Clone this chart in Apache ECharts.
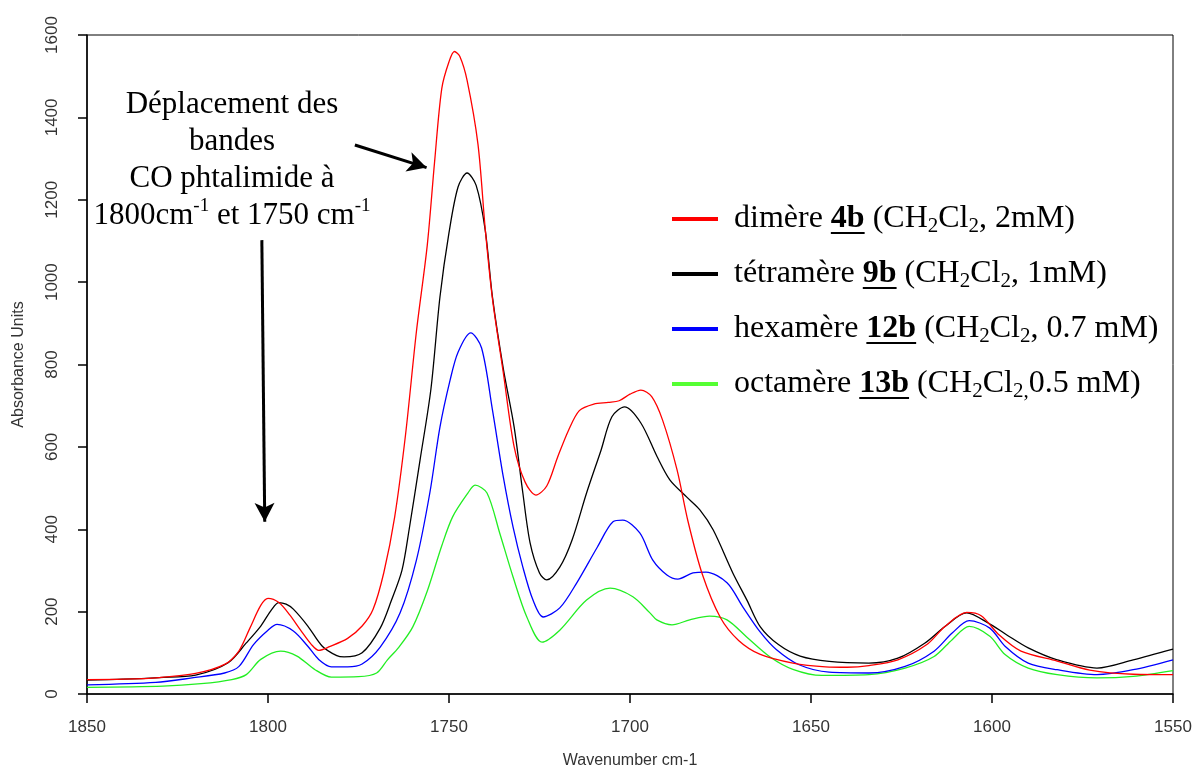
<!DOCTYPE html>
<html><head><meta charset="utf-8">
<script src="https://cdn.jsdelivr.net/npm/echarts@6/dist/echarts.min.js"></script>
<style>html,body{margin:0;padding:0;background:#fff}#c{width:1197px;height:770px}</style>
</head><body><div id="c"></div>
<script>
// ---- data ----
const wnDimere = [1850,1840,1830,1820,1812,1808,1805,1802,1800,1797,1794,1791,1788,1786,1783,1778,1774,1771,1768,1765,1762,1759,1756,1754,1752,1750,1748.5,1747,1745,1742,1740,1738,1735,1732,1729,1726,1723,1720,1717,1714,1710,1706,1703,1700,1697,1694,1691,1687,1684,1680,1675,1670,1664,1655,1646,1640,1634,1626,1618,1613,1607,1603,1598,1592,1582,1573,1561,1550];
const absDimere = [35,36,40,50,72,105,160,215,232,222,192,155,120,106,115,135,165,205,295,430,630,880,1090,1290,1470,1535,1560,1548,1490,1335,1130,960,780,600,515,483,505,575,640,688,704,708,712,728,738,722,665,544,420,290,185,130,96,75,66,65,69,83,120,164,198,190,143,104,80,58,48,47];

const wnTetra = [1850,1840,1830,1820,1811,1806,1802,1799,1797,1795,1793,1789,1785,1781,1779,1774,1769,1766,1763,1761,1758,1755,1752.5,1750,1747.5,1745,1742.5,1740,1738,1735,1732,1729.6,1727.6,1725,1723,1719.4,1716,1712,1708,1705,1701.5,1697,1692.5,1689,1684.3,1680.7,1677,1671.6,1667.7,1664,1659,1653,1645,1634,1626,1618.5,1613,1607,1601,1596,1590,1582,1571,1561,1550];
const absTetra = [34,36,40,46,76,124,165,205,222,218,206,165,116,93,90,100,160,225,300,400,568,740,964,1120,1231,1265,1235,1127,964,790,648,488,367,294,277,308,374,488,592,673,697,658,576,520,478,447,398,294,228,163,120,92,79,75,87,124,164,197,172,144,112,83,63,83,109];

const wnHexa = [1850,1831,1821,1812,1808,1804,1800,1797.5,1793,1789,1786,1782.5,1778,1774,1769,1763.5,1759,1755.3,1752.5,1749.7,1747.5,1744,1741,1738,1735,1732.3,1729.6,1726.8,1724,1719.4,1714.7,1709,1704.7,1702,1697.3,1693.7,1689.8,1686.8,1682.6,1679,1673.2,1668.8,1664,1659.6,1653.3,1645,1634,1624,1616,1611,1606.3,1600.6,1596.4,1590,1582,1571,1561,1550];
const absHexa = [22,28,39,51,67,120,155,169,153,116,84,66,66,73,114,197,325,488,648,762,830,877,840,690,527,405,308,228,187,209,270,357,418,422,391,325,289,279,294,296,270,211,150,108,71,53,51,67,104,148,178,160,116,75,59,47,59,83];

const wnOcta = [1850,1829,1818.5,1810,1806,1802,1796.5,1792,1787,1782.5,1775,1770,1767,1764,1760,1756,1752,1749,1745,1742.8,1739.5,1736,1732.3,1728.5,1724.3,1719.4,1712,1705.5,1699.2,1694.5,1692.6,1688.4,1683.5,1678,1673.2,1667.7,1661.3,1655,1647,1634,1624,1616,1611,1606.3,1600.6,1596.4,1590,1582,1571,1561,1550];
const absOcta = [16,19,25,35,47,84,104,92,59,41,42,51,83,112,163,250,360,430,485,507,488,391,284,187,126,155,228,257,236,197,180,168,180,189,180,138,90,60,45,47,63,91,132,164,140,96,63,47,39,43,57];

const seriesNames = ['dimère','tétramère','hexamère','octamère'];
const seriesColors = ['#ff0000','#000000','#0000ff','#22ee22'];
const legendSwatch = ['#ff0000','#000000','#0000ff','#55ff33'];
const legendWord = ['dimère ','tétramère ','hexamère ','octamère '];
const legendBold = ['4b','9b','12b','13b'];
const legendSub2 = ['2','2','2','2,'];
const legendConc = [', 2mM)',', 1mM)',', 0.7 mM)','0.5 mM)'];
const xTicks = {min:1550, max:1850, interval:50};
const yTicks = {min:0, max:1600, interval:200};

const zip = (a,b) => a.map((x,i)=>[x,b[i]]);
const allData = [zip(wnDimere,absDimere), zip(wnTetra,absTetra), zip(wnHexa,absHexa), zip(wnOcta,absOcta)];

const chart = echarts.init(document.getElementById('c'), null, {renderer:'canvas'});

const cv = document.createElement('canvas').getContext('2d');
const FS = 32;
function mw(t, bold, size){ cv.font = (bold?'bold ':'') + (size||FS) + 'px "Liberation Serif"'; return cv.measureText(t).width; }

const serif = '"Liberation Serif", "Times New Roman", serif';
const sans = '"Liberation Sans", Arial, sans-serif';
const rich = {
  n:{fontFamily:serif,fontSize:FS,color:'#000',lineHeight:36},
  b:{fontFamily:serif,fontSize:FS,fontWeight:'bold',color:'#000',lineHeight:36},
  s:{fontFamily:serif,fontSize:21,color:'#000',lineHeight:20,verticalAlign:'bottom'}
};

const rowY = [219,274,329,384];
const graphics = [];
const legX0 = 672, legX1 = 718, textX = 734;
for (let i=0;i<4;i++){
  graphics.push({type:'line', shape:{x1:legX0,y1:rowY[i],x2:legX1,y2:rowY[i]}, style:{stroke:legendSwatch[i],lineWidth:4}, silent:true});
  const txt = '{n|'+legendWord[i]+'}{b|'+legendBold[i]+'}{n| (CH}{s|2}{n|Cl}{s|'+legendSub2[i]+'}{n|'+legendConc[i]+'}';
  graphics.push({type:'text', x:textX, y:rowY[i], silent:true,
    style:{text:txt, rich:rich, verticalAlign:'middle', align:'left', fontFamily:serif, fontSize:FS}});
  const ux = textX + mw(legendWord[i], false);
  const uw = mw(legendBold[i], true);
  graphics.push({type:'rect', shape:{x:ux,y:rowY[i]+13,width:uw,height:2}, style:{fill:'#000'}, silent:true});
}
graphics.push({type:'text', x:232, y:86, silent:true,
  style:{text:'{n|Déplacement des}\n{n|bandes}\n{n|CO phtalimide à}\n{n|1800cm}{sup|-1}{n| et 1750 cm}{sup|-1}',
    rich:{n:{fontFamily:serif,fontSize:31,color:'#000',lineHeight:37,align:'center'},
          sup:{fontFamily:serif,fontSize:19,color:'#000',lineHeight:37,verticalAlign:'top'}},
    align:'center', verticalAlign:'top'}});

const series = allData.map((d,i)=>({
  name: seriesNames[i], type:'line', data:d, smooth:0.3, symbol:'none',
  lineStyle:{color:seriesColors[i], width:1.3}, itemStyle:{color:seriesColors[i]},
  z: 10-i, silent:true, emphasis:{disabled:true}, animation:false
}));
series[0].markLine = {
  silent:true, symbol:['none','arrow'], symbolSize:[15,19], animation:false,
  label:{show:false}, lineStyle:{color:'#000', width:3, type:'solid'},
  emphasis:{disabled:true},
  data:[
    [{coord:[1776,1333]},{coord:[1756.2,1278]}],
    [{coord:[1801.7,1102]},{coord:[1800.9,418]}]
  ]
};

chart.setOption({
  animation:false,
  backgroundColor:'#fff',
  grid:{left:87, right:24, top:35, bottom:76, show:true, borderColor:'#000', borderWidth:1,
        containLabel:false, outerBoundsMode:'none'},
  xAxis:{type:'value', inverse:true, min:xTicks.min, max:xTicks.max, interval:xTicks.interval,
    name:'Wavenumber cm-1', nameLocation:'middle', nameGap:59,
    nameTextStyle:{fontFamily:sans, fontSize:16, color:'#333'},
    axisLine:{show:true, lineStyle:{color:'#000', width:1.5}},
    axisTick:{show:true, length:9, lineStyle:{color:'#000', width:1.5}},
    axisLabel:{margin:25, fontFamily:sans, fontSize:17, color:'#333', formatter:v=>String(v)},
    splitLine:{show:false}},
  yAxis:{type:'value', min:yTicks.min, max:yTicks.max, interval:yTicks.interval,
    name:'Absorbance Units', nameLocation:'middle', nameGap:60, nameRotate:90,
    nameTextStyle:{fontFamily:sans, fontSize:16, color:'#333'},
    axisLine:{show:true, lineStyle:{color:'#000', width:1.5}},
    axisTick:{show:true, length:9, lineStyle:{color:'#000', width:1.5}},
    axisLabel:{rotate:90, margin:26, fontFamily:sans, fontSize:17, color:'#333', formatter:v=>String(v)},
    splitLine:{show:false}},
  series: series,
  graphic: graphics
});
</script></body></html>
